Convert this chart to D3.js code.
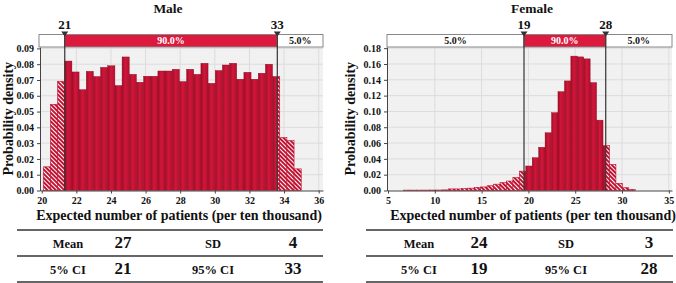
<!DOCTYPE html>
<html>
<head>
<meta charset="utf-8">
<script src="https://cdn.jsdelivr.net/npm/d3@7"></script>
<style>
  body { margin: 0; background: #fff; }
  svg { display: block; font-family: "Liberation Serif", "Times New Roman", serif; font-weight: bold; }
</style>
</head>
<body>
<svg id="chart" width="676" height="283"></svg>
<script>
// ---- data ----
// Male: probability density per histogram bin
const maleBinStart = 20.088, maleBinWidth = 0.414;
const maleDensity = [0.015, 0.0546, 0.0692, 0.082, 0.0751, 0.0639, 0.0755, 0.0722, 0.078, 0.079,
  0.0665, 0.0846, 0.0736, 0.0686, 0.0724, 0.0724, 0.0757, 0.0757, 0.0768, 0.069,
  0.0768, 0.0736, 0.0806, 0.0679, 0.076, 0.0795, 0.0806, 0.0705, 0.0749, 0.0705,
  0.0743, 0.080, 0.0722, 0.0335, 0.0316, 0.0137];
const maleCI = [21.33, 33.61];
const maleCILabels = ["21", "33"];
const maleBand = ["5.0%", "90.0%", "5.0%"];
const maleTicksX = [20, 22, 24, 26, 28, 30, 32, 34, 36];
const maleTicksY = [0, 0.01, 0.02, 0.03, 0.04, 0.05, 0.06, 0.07, 0.08, 0.09];
const maleStats = [["Mean", "27", "SD", "4"], ["5% CI", "21", "95% CI", "33"]];

// Female
const femaleBinStart = 6.645, femaleBinWidth = 0.688;
const femaleDensity = [0.0005, 0.0005, 0.0005, 0.0005, 0.0006, 0.0006, 0.0008, 0.002, 0.002, 0.0025,
  0.003, 0.004, 0.0045, 0.006, 0.008, 0.010, 0.012, 0.0165, 0.0245, 0.031,
  0.0415, 0.0547, 0.073, 0.0985, 0.125, 0.1386, 0.170, 0.169, 0.1665, 0.1365,
  0.089, 0.0567, 0.033, 0.0091, 0.0035, 0.0015];
const femaleCI = [19.53, 28.26];
const femaleCILabels = ["19", "28"];
const femaleBand = ["5.0%", "90.0%", "5.0%"];
const femaleTicksX = [5, 10, 15, 20, 25, 30, 35];
const femaleTicksY = [0, 0.02, 0.04, 0.06, 0.08, 0.10, 0.12, 0.14, 0.16, 0.18];
const femaleStats = [["Mean", "24", "SD", "3"], ["5% CI", "19", "95% CI", "28"]];

const xTitle = "Expected number of patients (per ten thousand)";
const yTitle = "Probability density";

// ---- drawing ----
const W = 676, H = 283;
const svg = d3.select("#chart");
const defs = svg.append("defs");

// solid bar shading (each bar a little darker at its edges)
const grad = defs.append("linearGradient").attr("id", "barFill")
    .attr("x1", 0).attr("x2", 1).attr("y1", 0).attr("y2", 0);
grad.selectAll("stop")
    .data([["0%", "#a00c28"], ["45%", "#d11739"], ["100%", "#b3102f"]])
    .join("stop")
    .attr("offset", d => d[0])
    .attr("stop-color", d => d[1]);

// hatch for the tails
const hatch = defs.append("pattern").attr("id", "hatch")
    .attr("patternUnits", "userSpaceOnUse")
    .attr("width", 3).attr("height", 3)
    .attr("patternTransform", "rotate(-45)");
hatch.append("rect").attr("width", 3).attr("height", 3).attr("fill", "#fff");
hatch.append("rect").attr("width", 2).attr("height", 3).attr("fill", "#c01232");

function drawPanel(p) {
    const g = svg.append("g");

    const x = d3.scaleLinear().domain(p.xDomain).range([p.left, p.right]);
    const y = d3.scaleLinear().domain(p.yDomain).range([p.bottom, p.top]);

    // plot background + grid
    g.append("rect")
        .attr("x", p.left).attr("y", p.top)
        .attr("width", p.right - p.left).attr("height", p.bottom - p.top)
        .attr("fill", "#f1f1f1");

    g.append("g").selectAll("line")
        .data(p.xTicks.filter(d => x(d) > p.left + 2))
        .join("line")
        .attr("x1", d => x(d)).attr("x2", d => x(d))
        .attr("y1", p.top).attr("y2", p.bottom)
        .attr("stroke", "#dcdcdc").attr("stroke-width", 1);

    g.append("g").selectAll("line")
        .data(p.yTicks.filter(d => d > 0))
        .join("line")
        .attr("x1", p.left).attr("x2", p.right)
        .attr("y1", d => y(d)).attr("y2", d => y(d))
        .attr("stroke", "#dcdcdc").attr("stroke-width", 1);

    const bins = p.density.map((v, i) => ({
        x0: p.binStart + i * p.binWidth,
        x1: p.binStart + (i + 1) * p.binWidth,
        v: v
    }));

    // clip regions: inside the interval solid, outside hatched
    defs.append("clipPath").attr("id", p.id + "-in")
        .append("rect")
        .attr("x", x(p.ci[0])).attr("y", 0)
        .attr("width", x(p.ci[1]) - x(p.ci[0])).attr("height", H);
    const out = defs.append("clipPath").attr("id", p.id + "-out");
    out.append("rect").attr("x", 0).attr("y", 0).attr("width", x(p.ci[0])).attr("height", H);
    out.append("rect").attr("x", x(p.ci[1])).attr("y", 0).attr("width", W - x(p.ci[1])).attr("height", H);

    g.append("g").attr("clip-path", `url(#${p.id}-out)`)
        .selectAll("rect")
        .data(bins)
        .join("rect")
        .attr("x", d => x(d.x0))
        .attr("y", d => y(d.v))
        .attr("width", d => x(d.x1) - x(d.x0))
        .attr("height", d => y(0) - y(d.v))
        .attr("fill", "url(#hatch)")
        .attr("stroke", "#c01232").attr("stroke-width", 0.6);

    g.append("g").attr("clip-path", `url(#${p.id}-in)`)
        .selectAll("rect")
        .data(bins)
        .join("rect")
        .attr("x", d => x(d.x0))
        .attr("y", d => y(d.v))
        .attr("width", d => x(d.x1) - x(d.x0))
        .attr("height", d => y(0) - y(d.v))
        .attr("fill", "url(#barFill)")
        .attr("stroke", "#8e0a24").attr("stroke-width", 0.4);

    // axes
    const yAxis = g.append("g")
        .attr("transform", `translate(${p.left},0)`)
        .call(d3.axisLeft(y).tickValues(p.yTicks).tickFormat(d3.format(".2f")).tickSize(3).tickSizeOuter(0));
    const xAxis = g.append("g")
        .attr("transform", `translate(0,${p.bottom})`)
        .call(d3.axisBottom(x).tickValues(p.xTicks).tickFormat(d3.format("d")).tickSize(3).tickSizeOuter(0));
    [xAxis, yAxis].forEach(a => {
        a.attr("font-family", null).attr("font-size", 10);
        a.selectAll("text").attr("fill", "#111");
        a.selectAll("path, line").attr("stroke", "#444");
    });

    // probability band above the plot
    const segs = [
        [p.bandLeft, x(p.ci[0]), p.band[0]],
        [x(p.ci[0]), x(p.ci[1]), p.band[1]],
        [x(p.ci[1]), p.right, p.band[2]]
    ];
    const band = g.append("g");
    band.selectAll("rect")
        .data(segs)
        .join("rect")
        .attr("x", d => d[0]).attr("y", p.bandTop)
        .attr("width", d => d[1] - d[0]).attr("height", p.top - p.bandTop)
        .attr("fill", (d, i) => i === 1 ? "#dc1a3e" : "#fff")
        .attr("stroke", "#888").attr("stroke-width", 1);
    band.selectAll("text")
        .data(segs)
        .join("text")
        .attr("x", d => (d[0] + d[1]) / 2)
        .attr("y", (p.bandTop + p.top) / 2 + 3.5)
        .attr("text-anchor", "middle")
        .attr("font-size", 10)
        .attr("fill", (d, i) => i === 1 ? "#fff" : "#111")
        .text(d => d[2])
        .each(function (d) {
            // label only fits in wide enough segments
            if (this.getComputedTextLength() > d[1] - d[0] - 4) d3.select(this).remove();
        });

    // interval lines, markers and labels
    const ci = g.append("g").selectAll("g")
        .data(p.ci.map((v, i) => ({ v: v, label: p.ciLabels[i] })))
        .join("g");
    ci.append("line")
        .attr("x1", d => x(d.v)).attr("x2", d => x(d.v))
        .attr("y1", p.bandTop).attr("y2", p.bottom)
        .attr("stroke", "#333").attr("stroke-width", 1.2);
    ci.append("path")
        .attr("d", d => `M${x(d.v) - 3.5},${p.bandTop - 3}L${x(d.v) + 3.5},${p.bandTop - 3}L${x(d.v)},${p.bandTop + 2}Z`)
        .attr("fill", "#333");
    ci.append("text")
        .attr("x", d => x(d.v)).attr("y", p.bandTop - 5.5)
        .attr("text-anchor", "middle")
        .attr("font-size", 13)
        .attr("fill", "#111")
        .text(d => d.label);

    // titles
    g.append("text")
        .attr("x", p.titleX).attr("y", 13)
        .attr("text-anchor", "middle").attr("font-size", 13.5).attr("fill", "#111")
        .text(p.title);
    g.append("text")
        .attr("transform", `translate(${p.yTitleX},${(p.top + p.bottom) / 2}) rotate(-90)`)
        .attr("text-anchor", "middle").attr("font-size", 14).attr("fill", "#111")
        .text(yTitle);
    g.append("text")
        .attr("x", p.xTitleX).attr("y", 220)
        .attr("text-anchor", "middle").attr("font-size", 14).attr("fill", "#111")
        .text(xTitle);

    // summary table
    const t = g.append("g");
    t.selectAll("line")
        .data(p.tableLines)
        .join("line")
        .attr("x1", p.tableLeft).attr("x2", p.tableRight)
        .attr("y1", d => d).attr("y2", d => d)
        .attr("stroke", "#333").attr("stroke-width", 1.5);
    p.stats.forEach((row, r) => {
        t.append("g").selectAll("text")
            .data(row)
            .join("text")
            .attr("x", (d, i) => p.tableCols[i])
            .attr("y", (p.tableLines[r] + p.tableLines[r + 1]) / 2 + 4.5)
            .attr("text-anchor", "middle")
            .attr("font-size", (d, i) => i % 2 ? 17 : 12.5)
            .attr("fill", "#111")
            .text(d => d);
    });
}

drawPanel({
    id: "male", title: "Male", titleX: 168,
    left: 40, right: 323, top: 47, bottom: 190.5, bandTop: 34.5, bandLeft: 39,
    xDomain: [19.9, 36.25], yDomain: [0, 0.0909],
    xTicks: maleTicksX, yTicks: maleTicksY,
    binStart: maleBinStart, binWidth: maleBinWidth, density: maleDensity,
    ci: maleCI, ciLabels: maleCILabels, band: maleBand,
    yTitleX: 13, xTitleX: 179,
    stats: maleStats, tableLeft: 17, tableRight: 323, tableLines: [230, 256, 282],
    tableCols: [68, 123, 213, 293]
});

drawPanel({
    id: "female", title: "Female", titleX: 532,
    left: 387, right: 672, top: 47, bottom: 190.5, bandTop: 34.5, bandLeft: 387,
    xDomain: [4.893, 35.34], yDomain: [0, 0.1815],
    xTicks: femaleTicksX, yTicks: femaleTicksY,
    binStart: femaleBinStart, binWidth: femaleBinWidth, density: femaleDensity,
    ci: femaleCI, ciLabels: femaleCILabels, band: femaleBand,
    yTitleX: 355, xTitleX: 533,
    stats: femaleStats, tableLeft: 366, tableRight: 673, tableLines: [230, 256, 282],
    tableCols: [419, 479, 566, 649]
});
</script>
</body>
</html>
